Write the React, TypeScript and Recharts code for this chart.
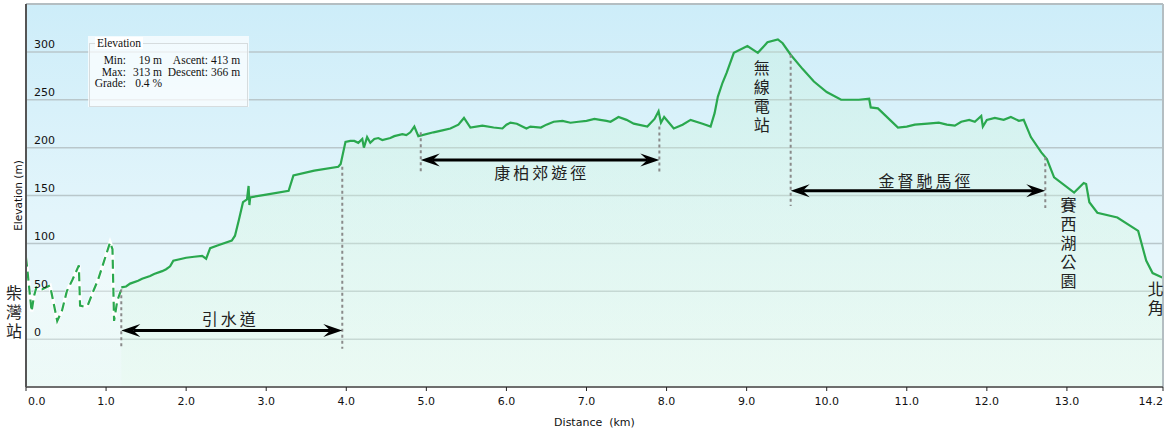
import React from 'react';
import {
  ComposedChart,
  Area,
  Line,
  XAxis,
  YAxis,
  CartesianGrid,
  ReferenceLine,
  ReferenceDot,
} from 'recharts';

// ---- data (distance km, elevation m) ----
const dashDist = [0, 0.02, 0.07, 0.1, 0.13, 0.2, 0.3, 0.39, 0.45, 0.51, 0.58, 0.66, 0.675, 0.72, 0.77, 0.84, 0.9, 0.95, 1.0, 1.05, 1.08, 1.1, 1.14, 1.19];
const dashElev = [85, 70, 29, 45, 54, 52, 56, 19, 30, 50, 62, 77, 35, 34, 35, 50, 62, 75, 88, 101, 94, 19, 40, 52];

const trailDist = [
  1.19, 1.25, 1.3, 1.4, 1.45, 1.55, 1.6, 1.7, 1.75, 1.8,
  1.84, 2.0, 2.1, 2.2, 2.25, 2.3, 2.4, 2.57, 2.61, 2.66,
  2.71, 2.76, 2.78, 2.79, 2.8, 3.0, 3.28, 3.34, 3.6, 3.9,
  3.93, 3.99, 4.05, 4.1, 4.15, 4.2, 4.22, 4.26, 4.3, 4.35,
  4.4, 4.45, 4.55, 4.6, 4.7, 4.75, 4.8, 4.85, 4.9, 5.09,
  5.2, 5.3, 5.4, 5.47, 5.55, 5.7, 5.84, 5.95, 6.0, 6.05,
  6.13, 6.25, 6.3, 6.43, 6.5, 6.59, 6.7, 6.8, 6.9, 7.0,
  7.1, 7.17, 7.25, 7.3, 7.4, 7.5, 7.59, 7.76, 7.85, 7.9,
  7.93, 7.97, 8.09, 8.2, 8.3, 8.45, 8.55, 8.6, 8.64, 8.7,
  8.75, 8.84, 9.01, 9.14, 9.26, 9.39, 9.45, 9.55, 9.7, 9.84,
  10.0, 10.18, 10.4, 10.53, 10.55, 10.64, 10.89, 11.0, 11.1, 11.26,
  11.4, 11.5, 11.6, 11.68, 11.78, 11.85, 11.93, 11.95, 12.0, 12.1,
  12.21, 12.3, 12.4, 12.46, 12.55, 12.68, 12.75, 12.84, 13.09, 13.21,
  13.24, 13.28, 13.38, 13.63, 13.89, 13.99, 14.07, 14.15, 14.2,
];
const trailElev = [
  54, 55, 58, 61, 63, 66, 68, 71, 73, 76,
  82, 85, 86, 87, 84, 95, 98, 103, 108, 125,
  143, 146, 160, 140, 148, 151, 155, 171, 176, 180,
  183, 206, 207, 207, 205, 209, 200, 211, 205, 209,
  210, 208, 210, 212, 214, 213, 216, 222, 212, 216,
  218, 220, 224, 231, 221, 223, 221, 220, 224, 226,
  225, 220, 222, 221, 224, 227, 228, 226, 227, 228,
  230, 229, 228, 227, 232, 229, 225, 222, 230, 238,
  226, 232, 220, 224, 229, 225, 222, 236, 253, 268,
  278, 299, 306, 299, 310, 313, 309, 297, 282, 269,
  258, 250, 250, 251, 242, 241, 221, 222, 224, 225,
  226, 224, 223, 227, 229, 227, 233, 222, 229, 231,
  229, 232, 228, 229, 211, 195, 188, 169, 153, 163,
  162, 143, 132, 127, 113, 82, 69, 66, 64,
];

const xTicks = [0, 1, 2, 3, 4, 5, 6, 7, 8, 9, 10, 11, 12, 13, 14.2];
const yTicks = [0, 50, 100, 150, 200, 250, 300];

// annotations
const guideDist = [1.19, 3.95, 4.93, 7.91, 9.55, 12.73];
const guideTop = [52, 180, 216, 222, 297, 190];
const guideBottom = [-10, -10, 173, 173, 139, 137];

const routeNames = ['引水道', '康柏郊遊徑', '金督馳馬徑'];
const routeStart = [1.19, 4.93, 9.55];
const routeEnd = [3.95, 7.91, 12.73];
const routeArrowElev = [9, 187, 155];
const routeLabelDist = [2.55, 6.44, 11.24];
const routeLabelElev = [22, 175, 166];

const placeNames = ['柴灣站', '無線電站', '賽西湖公園', '北角'];
const placeDist = [-0.15, 9.19, 13.02, 14.11];
const placeElev = [48, 283, 140, 52];

const dashData = dashDist.map((d, i) => ({ d, e: dashElev[i] }));
const trailData = trailDist.map((d, i) => ({ d, e: trailElev[i] }));

const CJK = '"Noto Sans CJK TC", "Noto Sans CJK SC", sans-serif';
const UI = '"DejaVu Sans", Verdana, sans-serif';
const SERIF = '"Liberation Serif", "Times New Roman", serif';

const DoubleArrow = (p: any) => {
  const { x1, y1, x2 } = p;
  const y = y1;
  const L = 19;
  const H = 6.5;
  const B = 12;
  return (
    <g>
      <line x1={x1 + B} y1={y} x2={x2 - B} y2={y} stroke="#000" strokeWidth={3} />
      <polygon points={`${x1},${y} ${x1 + L},${y - H} ${x1 + B},${y} ${x1 + L},${y + H}`} fill="#000" />
      <polygon points={`${x2},${y} ${x2 - L},${y - H} ${x2 - B},${y} ${x2 - L},${y + H}`} fill="#000" />
    </g>
  );
};

const makeVText = (chars: string) => (p: any) => (
  <text
    x={p.cx}
    y={p.cy - 8}
    textAnchor="start"
    fontSize={16}
    fontFamily={CJK}
    fill="#222"
    style={{ writingMode: 'vertical-rl', letterSpacing: 3 }}
  >
    {chars}
  </text>
);

const makeHText = (s: string) => (p: any) => (
  <text
    x={p.cx}
    y={p.cy}
    textAnchor="middle"
    dominantBaseline="central"
    fontSize={16}
    fontFamily={CJK}
    letterSpacing={3}
    fill="#222"
  >
    {s}
  </text>
);

const YTick = (p: any) => (
  <text x={p.x} y={p.y - 7} textAnchor="start" dominantBaseline="central" fontSize={11} fontFamily={UI} fill="#111">
    {p.payload.value}
  </text>
);

const XTick = (p: any) => {
  const last = p.index === xTicks.length - 1;
  const first = p.index === 0;
  return (
    <text
      x={first ? p.x + 2 : p.x}
      y={p.y}
      dy="0.71em"
      textAnchor={first ? 'start' : last ? 'end' : 'middle'}
      fontSize={11}
      fontFamily={UI}
      fill="#111"
    >
      {Number(p.payload.value).toFixed(1)}
    </text>
  );
};

const cell = (left: number, width: number, top: number, text: string, align: 'right' | 'left' = 'right') => (
  <div
    style={{
      position: 'absolute',
      left,
      top,
      width,
      textAlign: align,
      whiteSpace: 'pre',
      lineHeight: '11px',
    }}
  >
    {text}
  </div>
);

export default function App() {
  return (
    <div style={{ position: 'relative', width: 1169, height: 433, background: '#fff' }}>
      <style>{'body{margin:0}'}</style>
      <ComposedChart
        width={1169}
        height={433}
        margin={{ top: 4, right: 6, bottom: 0, left: 26 }}
      >
        <defs>
          <linearGradient id="bgGrad" x1="0" y1="0" x2="0" y2="1">
            <stop offset="0%" stopColor="#cdedf9" />
            <stop offset="55%" stopColor="#e3f5fb" />
            <stop offset="100%" stopColor="#eef9fb" />
          </linearGradient>
          <linearGradient id="areaGrad" x1="0" y1="0" x2="0" y2="1">
            <stop offset="0%" stopColor="#c4f2d6" stopOpacity={0.5} />
            <stop offset="100%" stopColor="#e6fbe6" stopOpacity={0.6} />
          </linearGradient>
          <linearGradient id="dashGrad" x1="0" y1="0" x2="0" y2="1">
            <stop offset="0%" stopColor="#ffffff" stopOpacity={0.7} />
            <stop offset="100%" stopColor="#eafbee" stopOpacity={0.5} />
          </linearGradient>
        </defs>
        <CartesianGrid
          vertical={false}
          stroke="#b9c7cb"
          strokeWidth={1.5}
          fill="url(#bgGrad)"
          fillOpacity={1}
        />
        <XAxis
          type="number"
          dataKey="d"
          domain={[0, 14.2]}
          ticks={xTicks}
          interval={0}
          allowDataOverflow
          height={46}
          tickSize={4}
          tickMargin={6}
          tick={<XTick />}
          axisLine={{ stroke: '#6e6e6e', strokeWidth: 2 }}
          tickLine={{ stroke: '#222' }}
          label={{
            value: 'Distance\u00a0 (km)',
            position: 'insideBottom',
            offset: 7,
            style: { fontSize: 11, fontFamily: UI, fill: '#111' },
          }}
        />
        <YAxis
          type="number"
          dataKey="e"
          domain={[-50, 350]}
          ticks={yTicks}
          interval={0}
          allowDataOverflow
          mirror
          width={40}
          tickSize={0}
          tickMargin={8}
          tickLine={false}
          tick={<YTick />}
          axisLine={{ stroke: '#555', strokeWidth: 2 }}
          label={{
            value: 'Elevation (m)',
            angle: -90,
            position: 'left',
            offset: 8,
            style: { fontSize: 10.5, fontFamily: UI, fill: '#111', textAnchor: 'middle' },
          }}
        />
        <ReferenceLine y={350} stroke="#b4bec2" strokeWidth={2} ifOverflow="visible" />
        <ReferenceLine x={14.2} stroke="#b4bec2" strokeWidth={2} ifOverflow="visible" />

        <Area
          data={dashData}
          dataKey="e"
          type="linear"
          baseValue={-50}
          stroke="#ffffff"
          strokeWidth={3.5}
          fill="url(#dashGrad)"
          isAnimationActive={false}
          dot={false}
          activeDot={false}
        />
        <Line
          data={dashData}
          dataKey="e"
          type="linear"
          stroke="#2aa84e"
          strokeWidth={2.2}
          strokeDasharray="9 5"
          dot={false}
          activeDot={false}
          isAnimationActive={false}
        />
        <Area
          data={trailData}
          dataKey="e"
          type="linear"
          baseValue={-50}
          stroke="#2aa84e"
          strokeWidth={2.2}
          fill="url(#areaGrad)"
          dot={false}
          activeDot={false}
          isAnimationActive={false}
        />

        {guideDist.map((d, i) => (
          <ReferenceLine
            key={'g' + i}
            segment={[
              { x: d, y: guideTop[i] },
              { x: d, y: guideBottom[i] },
            ]}
            stroke="#8a8a8a"
            strokeWidth={2}
            strokeDasharray="3 3"
            ifOverflow="visible"
          />
        ))}
        {routeNames.map((n, i) => (
          <ReferenceLine
            key={'r' + i}
            segment={[
              { x: routeStart[i], y: routeArrowElev[i] },
              { x: routeEnd[i], y: routeArrowElev[i] },
            ]}
            shape={<DoubleArrow />}
            ifOverflow="visible"
          />
        ))}
        {routeNames.map((n, i) => (
          <ReferenceDot
            key={'rl' + i}
            x={routeLabelDist[i]}
            y={routeLabelElev[i]}
            r={0}
            shape={makeHText(n)}
            ifOverflow="visible"
          />
        ))}
        {placeNames.map((n, i) => (
          <ReferenceDot
            key={'p' + i}
            x={placeDist[i]}
            y={placeElev[i]}
            r={0}
            shape={makeVText(n)}
            ifOverflow="visible"
          />
        ))}
      </ComposedChart>

      <div
        style={{
          position: 'absolute',
          left: 88,
          top: 36,
          width: 161,
          height: 71,
          background: 'rgba(255,255,255,0.72)',
          fontFamily: SERIF,
          fontSize: 11.5,
          color: '#111',
        }}
      >
        <div
          style={{
            position: 'absolute',
            left: 1,
            top: 7,
            width: 157,
            height: 62,
            border: '1px solid #d6dcde',
          }}
        />
        <div
          style={{
            position: 'absolute',
            left: 7,
            top: 1,
            padding: '0 2px',
            background: 'rgba(255,255,255,0.95)',
            lineHeight: '12px',
          }}
        >
          Elevation
        </div>
        {cell(0, 38, 19, 'Min:')}
        {cell(40, 34, 19, '19 m')}
        {cell(78, 42, 19, 'Ascent:')}
        {cell(123, 34, 19, '413 m', 'left')}
        {cell(0, 38, 31, 'Max:')}
        {cell(40, 34, 31, '313 m')}
        {cell(78, 42, 31, 'Descent:')}
        {cell(123, 34, 31, '366 m', 'left')}
        {cell(0, 38, 42, 'Grade:')}
        {cell(40, 34, 42, '0.4 %')}
      </div>
    </div>
  );
}
